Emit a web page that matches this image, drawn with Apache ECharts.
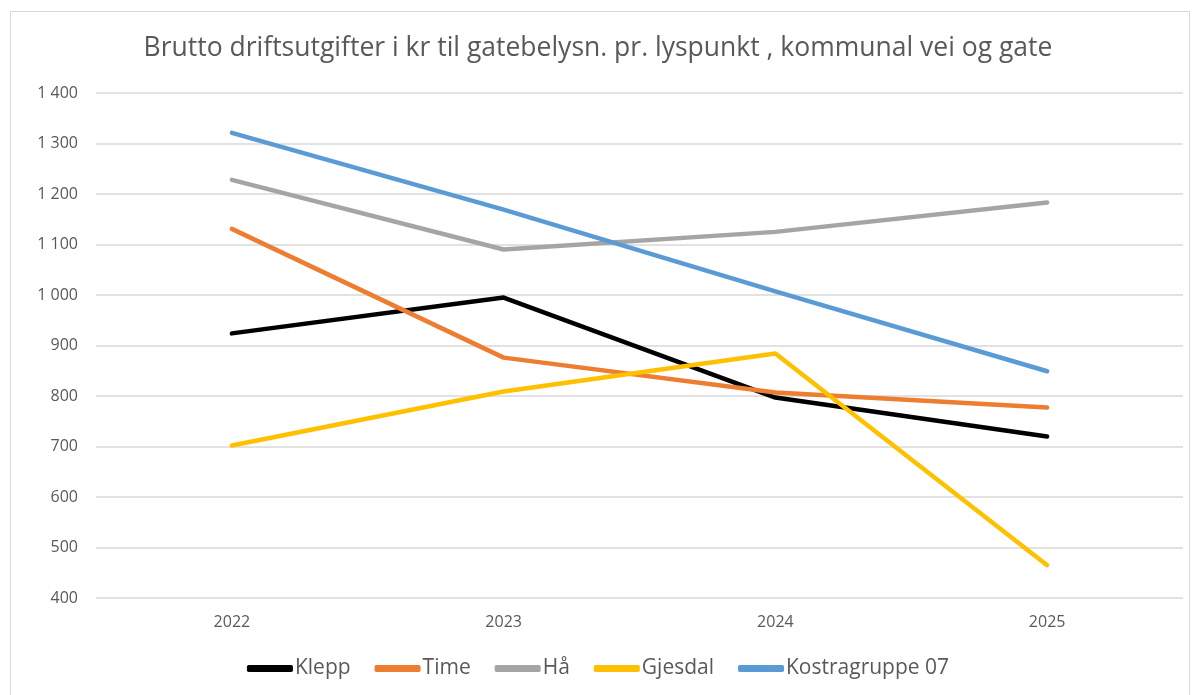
<!DOCTYPE html>
<html>
<head>
<meta charset="utf-8">
<script src="https://cdn.jsdelivr.net/npm/echarts@6/dist/echarts.min.js"></script>
<style>
    html, body {margin: 0; padding: 0; background: #fff;}
    #frame {position: absolute; left: 10px; top: 11px; width: 1180px; height: 690px; border: 1px solid #d9d9d9; box-sizing: border-box;}
    #chart {position: absolute; left: 0; top: 0; width: 1196px; height: 695px;}
</style>
</head>
<body>
<div id="frame"></div>
<div id="chart"></div>
<script>
// data
var years = ['2022', '2023', '2024', '2025'];
var klepp = [924, 995, 797, 720];
var time = [1131, 876, 807, 777];
var haa = [1228, 1090, 1125, 1183];
var gjesdal = [702, 809, 884, 465];
var kostra = [1321, 1169, 1007, 849];

function lineSeries(name, data, color) {
    return {
        name: name,
        type: 'line',
        data: data,
        symbol: 'none',
        lineStyle: {width: 4.5, color: color, cap: 'round', join: 'round'},
        itemStyle: {color: color}
    };
}

var chart = echarts.init(document.getElementById('chart'));
chart.setOption({
    animation: false,
    textStyle: {fontFamily: 'Open Sans'},
    title: {
        text: 'Brutto driftsutgifter i kr til gatebelysn. pr. lyspunkt , kommunal vei og gate',
        left: 'center',
        top: 30,
        textStyle: {fontSize: 26.5, fontWeight: 'normal', color: '#595959', fontFamily: 'Open Sans'}
    },
    legend: {
        bottom: 11,
        left: 'center',
        itemWidth: 46,
        itemHeight: 7,
        itemGap: 24,
        icon: 'roundRect',
        textStyle: {fontSize: 21, color: '#595959', padding: [0, 0, 0, -3]}
    },
    grid: {left: 96, right: 13, top: 93, bottom: 97},
    xAxis: {
        type: 'category',
        data: years,
        boundaryGap: true,
        axisLine: {show: false},
        axisTick: {show: false},
        axisLabel: {fontSize: 16, color: '#595959', margin: 16}
    },
    yAxis: {
        type: 'value',
        min: 400,
        max: 1400,
        interval: 100,
        axisLine: {show: false},
        axisTick: {show: false},
        axisLabel: {
            fontSize: 16, color: '#595959', margin: 18,
            formatter: function (v) {
                return String(v).replace(/\B(?=(\d{3})+(?!\d))/g, ' ');
            }
        },
        splitLine: {lineStyle: {color: '#d9d9d9', width: 1.5}}
    },
    series: [
        lineSeries('Klepp', klepp, '#000000'),
        lineSeries('Time', time, '#ed7d31'),
        lineSeries('Hå', haa, '#a5a5a5'),
        lineSeries('Gjesdal', gjesdal, '#ffc000'),
        lineSeries('Kostragruppe 07', kostra, '#5b9bd5')
    ]
});
</script>
</body>
</html>
